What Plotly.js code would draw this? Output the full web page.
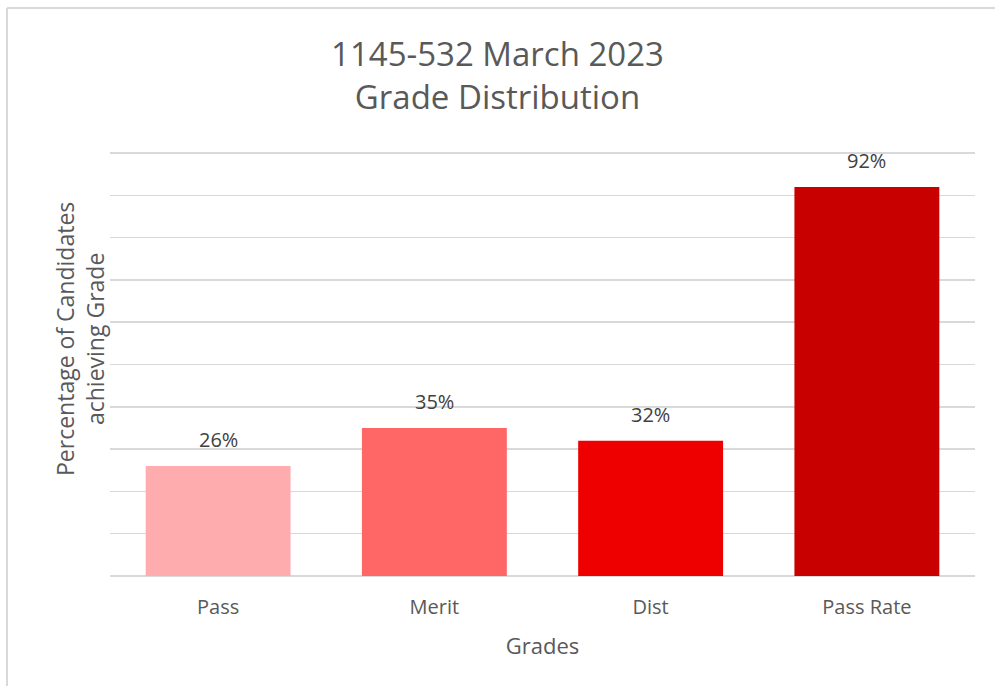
<!DOCTYPE html>
<html><head><meta charset="utf-8">
<script src="https://cdn.plot.ly/plotly-3.0.1.min.js"></script>
<style>html,body{margin:0;padding:0;background:#fff}#chart{width:995px;height:686px}</style>
</head><body><div id="chart"></div>
<script>
const categories = ["Pass", "Merit", "Dist", "Pass Rate"];
const values = [26, 35, 32, 92];
const labels = ["26%", "35%", "32%", "92%"];
const colors = ["#FFACAE", "#FF6666", "#EE0000", "#C80000"];

const FONT = "Open Sans, sans-serif";
const GREY = "#595959";

const trace = {
  type: "bar",
  x: categories,
  y: values,
  marker: {color: colors, line: {width: 0}},
  hoverinfo: "skip"
};

const L = 110, R = 20, T = 152, B = 110, W = 995, H = 686;
const pw = W - L - R, ph = H - T - B;
const px = v => (v - L) / pw;
const py = v => 1 - (v - T) / ph;

const annotations = categories.map((c, i) => ({
  x: c, y: values[i], xref: "x", yref: "y",
  text: labels[i], showarrow: false, yanchor: "bottom", yshift: 11,
  font: {family: FONT, size: 20, color: "#404040"}
}));
annotations.push({
  xref: "paper", yref: "paper", x: px(80), y: py(339),
  xanchor: "center", yanchor: "middle", textangle: -90, showarrow: false,
  text: "Percentage of Candidates<br>achieving Grade",
  font: {family: FONT, size: 23, color: GREY}
});

const layout = {
  width: W, height: H,
  margin: {l: L, r: R, t: T, b: B},
  paper_bgcolor: "#fff", plot_bgcolor: "#fff",
  showlegend: false,
  bargap: 0.33,
  title: {
    text: "1145-532 March 2023<br>Grade Distribution",
    font: {family: FONT, size: 33, color: GREY},
    x: 0.5, xanchor: "center", y: 1 - 66 / H, yanchor: "middle", yref: "container"
  },
  xaxis: {
    type: "category",
    showgrid: false, zeroline: false, showline: false, ticks: "",
    tickfont: {family: FONT, size: 20, color: GREY},
    ticklabelstandoff: 17,
    title: {text: "Grades", font: {family: FONT, size: 22, color: GREY}, standoff: 19}
  },
  yaxis: {
    range: [0, 100.25], dtick: 10, tick0: 0,
    showticklabels: false, ticks: "",
    showgrid: true, gridcolor: "#D9D9D9", gridwidth: 1.5,
    zeroline: true, zerolinecolor: "#D9D9D9", zerolinewidth: 1.5,
    showline: false
  },
  annotations: annotations,
  shapes: [
    {type: "line", xref: "paper", yref: "paper", x0: px(7), x1: px(1000), y0: py(8), y1: py(8), line: {color: "#D9D9D9", width: 2}},
    {type: "line", xref: "paper", yref: "paper", x0: px(7), x1: px(7), y0: py(8), y1: py(700), line: {color: "#D9D9D9", width: 2}}
  ]
};

Plotly.newPlot("chart", [trace], layout, {displayModeBar: false, staticPlot: true});
</script></body></html>
